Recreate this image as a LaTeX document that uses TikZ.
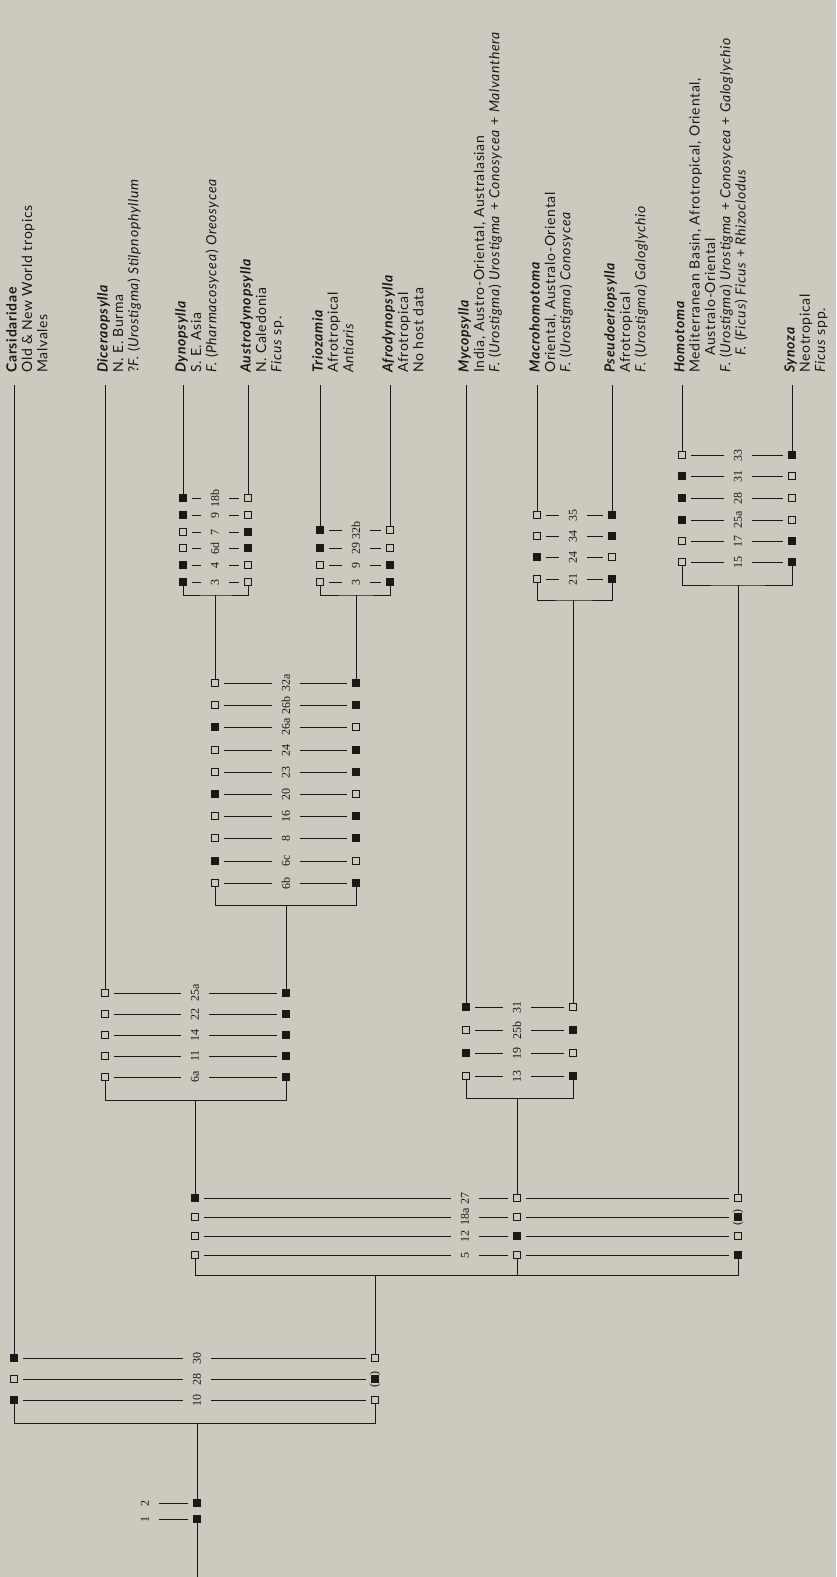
\documentclass[tikz,border=0pt]{standalone}
\usepackage{fontspec}
\setmainfont{Lato}[LetterSpace=5.0]
\newfontfamily\numfont{Liberation Serif}
\usetikzlibrary{positioning}
\definecolor{paper}{RGB}{204,202,191}
\definecolor{ink}{RGB}{28,24,24}
\newcommand{\gen}[1]{\textbf{\textit{#1}}}
\begin{document}
\begin{tikzpicture}[x=0.75pt, y=-0.75pt,
    ln/.style={draw=ink, line width=0.7pt},
    row/.style={ln, shorten <=4pt, shorten >=4pt},
    so/.style={draw=ink, fill=paper, line width=0.9pt, minimum size=5.8pt, inner sep=0pt, outer sep=0pt},
    sf/.style={so, fill=ink},
    sp/.style={sf, label={[font=\numfont\fontsize{9}{9}\selectfont, rotate=90, inner sep=0pt, text=ink]center:(\hspace{6pt})}},
    num/.style={font=\numfont\fontsize{9}{9}\selectfont, rotate=90, inner sep=1pt, outer sep=2.5pt, text=ink},
    taxon/.style={rotate=90, anchor=north west, align=left, inner sep=0pt, font=\fontsize{10.5}{11.5}\selectfont, text=ink}]
  \fill[paper] (0,0) rectangle (836,1577);
  \useasboundingbox (0,0) rectangle (836,1577);

  % taxa (text runs upwards, first line on the left)
  \node[taxon] (tCars) at (6,373) {\textbf{Carsidaridae}\\Old \& New World tropics\\Malvales};
  \node[taxon] (tDice) at (97,373) {\gen{Diceraopsylla}\\N. E. Burma\\?\textit{F.} (\textit{Urostigma}) \textit{Stilpnophyllum}};
  \node[taxon] (tDyno) at (175,373) {\gen{Dynopsylla}\\S. E. Asia\\\textit{F.} (\textit{Pharmacosycea}) \textit{Oreosycea}};
  \node[taxon] (tAustro) at (240,373) {\gen{Austrodynopsylla}\\N. Caledonia\\\textit{Ficus} sp.};
  \node[taxon] (tTrioz) at (312,373) {\gen{Triozamia}\\Afrotropical\\\textit{Antiaris}};
  \node[taxon] (tAfro) at (382,373) {\gen{Afrodynopsylla}\\Afrotropical\\No host data};
  \node[taxon] (tMyco) at (458,373) {\gen{Mycopsylla}\\India, Austro-Oriental, Australasian\\\textit{F.} (\textit{Urostigma}) \textit{Urostigma} + \textit{Conosycea} + \textit{Malvanthera}};
  \node[taxon] (tMacro) at (529,373) {\gen{Macrohomotoma}\\Oriental, Australo-Oriental\\\textit{F.} (\textit{Urostigma}) \textit{Conosycea}};
  \node[taxon] (tPseudo) at (604,373) {\gen{Pseudoeriopsylla}\\Afrotropical\\\textit{F.} (\textit{Urostigma}) \textit{Galoglychio}};
  \node[taxon] (tHomo) at (674,373) {\gen{Homotoma}\\Mediterranean Basin, Afrotropical, Oriental,\\\hspace*{1.2em}Australo-Oriental\\\textit{F.} (\textit{Urostigma}) \textit{Urostigma} + \textit{Conosycea} + \textit{Galoglychio}\\\hspace*{1.2em}\textit{F.} (\textit{Ficus}) \textit{Ficus} + \textit{Rhizoclodus}};
  \node[taxon] (tSyn) at (784,373) {\gen{Synoza}\\Neotropical\\\textit{Ficus} spp.};

  % tops of the terminal branches
  \foreach \n/\x in {Cars/14, Dice/105, Dyno/183, Austro/248, Trioz/320, Afro/390,
                     Myco/466, Macro/537, Pseudo/612, Homo/682, Syn/792}
    \coordinate (\n-top) at (\x,385);

  % Dynopsylla | Austrodynopsylla
  \foreach \y/\c/\l/\r [count=\i] in {498/18b/sf/so, 515/9/sf/so, 532/7/so/sf, 548/6d/so/sf, 565/4/sf/so, 582/3/sf/so} {
    \node[\l] (D-l-\i) at (183,\y) {};
    \node[num] (D-n-\i) at (215,\y) {\c};
    \node[\r] (D-r-\i) at (248,\y) {};
    \draw[row] (D-l-\i) -- (D-n-\i);
    \draw[row] (D-n-\i) -- (D-r-\i);
  }
  % Triozamia | Afrodynopsylla
  \foreach \y/\c/\l/\r [count=\i] in {530/32b/sf/so, 548/29/sf/so, 565/9/so/sf, 582/3/so/sf} {
    \node[\l] (T-l-\i) at (320,\y) {};
    \node[num] (T-n-\i) at (356,\y) {\c};
    \node[\r] (T-r-\i) at (390,\y) {};
    \draw[row] (T-l-\i) -- (T-n-\i);
    \draw[row] (T-n-\i) -- (T-r-\i);
  }
  % Macrohomotoma | Pseudoeriopsylla
  \foreach \y/\c/\l/\r [count=\i] in {515/35/so/sf, 536/34/so/sf, 557/24/sf/so, 579/21/so/sf} {
    \node[\l] (M-l-\i) at (537,\y) {};
    \node[num] (M-n-\i) at (573,\y) {\c};
    \node[\r] (M-r-\i) at (612,\y) {};
    \draw[row] (M-l-\i) -- (M-n-\i);
    \draw[row] (M-n-\i) -- (M-r-\i);
  }
  % Homotoma | Synoza
  \foreach \y/\c/\l/\r [count=\i] in {455/33/so/sf, 476/31/sf/so, 498/28/sf/so, 520/25a/sf/so, 541/17/so/sf, 562/15/so/sf} {
    \node[\l] (H-l-\i) at (682,\y) {};
    \node[num] (H-n-\i) at (738,\y) {\c};
    \node[\r] (H-r-\i) at (792,\y) {};
    \draw[row] (H-l-\i) -- (H-n-\i);
    \draw[row] (H-n-\i) -- (H-r-\i);
  }
  % (Dynopsylla + Austrodynopsylla) | (Triozamia + Afrodynopsylla)
  \foreach \y/\c/\l/\r [count=\i] in {683/32a/so/sf, 705/26b/so/sf, 727/26a/sf/so, 750/24/so/sf, 772/23/so/sf,
                                      794/20/sf/so, 816/16/so/sf, 838/8/so/sf, 861/6c/sf/so, 883/6b/so/sf} {
    \node[\l] (B-l-\i) at (215,\y) {};
    \node[num] (B-n-\i) at (286,\y) {\c};
    \node[\r] (B-r-\i) at (356,\y) {};
    \draw[row] (B-l-\i) -- (B-n-\i);
    \draw[row] (B-n-\i) -- (B-r-\i);
  }
  % Diceraopsylla | rest
  \foreach \y/\c/\l/\r [count=\i] in {993/25a/so/sf, 1014/22/so/sf, 1035/14/so/sf, 1056/11/so/sf, 1077/6a/so/sf} {
    \node[\l] (C-l-\i) at (105,\y) {};
    \node[num] (C-n-\i) at (195,\y) {\c};
    \node[\r] (C-r-\i) at (286,\y) {};
    \draw[row] (C-l-\i) -- (C-n-\i);
    \draw[row] (C-n-\i) -- (C-r-\i);
  }
  % Mycopsylla | (Macrohomotoma + Pseudoeriopsylla)
  \foreach \y/\c/\l/\r [count=\i] in {1007/31/sf/so, 1030/25b/so/sf, 1053/19/sf/so, 1076/13/so/sf} {
    \node[\l] (Y-l-\i) at (466,\y) {};
    \node[num] (Y-n-\i) at (517,\y) {\c};
    \node[\r] (Y-r-\i) at (573,\y) {};
    \draw[row] (Y-l-\i) -- (Y-n-\i);
    \draw[row] (Y-n-\i) -- (Y-r-\i);
  }
  % three-way split
  \foreach \y/\c/\l/\m/\r [count=\i] in {1198/27/sf/so/so, 1217/18a/so/so/sp, 1236/12/so/sf/so, 1255/5/so/so/sf} {
    \node[\l] (K-l-\i) at (195,\y) {};
    \node[num] (K-n-\i) at (465,\y) {\c};
    \node[\m] (K-m-\i) at (517,\y) {};
    \node[\r] (K-r-\i) at (738,\y) {};
    \draw[row] (K-l-\i) -- (K-n-\i);
    \draw[row] (K-n-\i) -- (K-m-\i);
    \draw[row] (K-m-\i) -- (K-r-\i);
  }
  % Carsidaridae | Homotomidae
  \foreach \y/\c/\l/\r [count=\i] in {1358/30/sf/so, 1379/28/so/sp, 1400/10/sf/so} {
    \node[\l] (Z-l-\i) at (14,\y) {};
    \node[num] (Z-n-\i) at (197,\y) {\c};
    \node[\r] (Z-r-\i) at (375,\y) {};
    \draw[row] (Z-l-\i) -- (Z-n-\i);
    \draw[row] (Z-n-\i) -- (Z-r-\i);
  }
  % root
  \foreach \y/\c [count=\i] in {1503/2, 1519/1} {
    \node[sf] (R-\i) at (197,\y) {};
    \node[num] (R-n-\i) at (145,\y) {\c};
    \draw[row] (R-n-\i) -- (R-\i);
  }
  \coordinate (R-end) at (197,1577);

  % brackets
  \coordinate (Db) at (215,595);
  \coordinate (Tb) at (356,595);
  \coordinate (Mb) at (573,600);
  \coordinate (Hb) at (738,585);
  \coordinate (Bb) at (286,905);
  \coordinate (Cb) at (195,1100);
  \coordinate (Yb) at (517,1098);
  \coordinate (Kb) at (375,1275);
  \coordinate (Zb) at (197,1423);
  \draw[ln] (D-l-6) |- (Db) -| (D-r-6);
  \draw[ln] (T-l-4) |- (Tb) -| (T-r-4);
  \draw[ln] (M-l-4) |- (Mb) -| (M-r-4);
  \draw[ln] (H-l-6) |- (Hb) -| (H-r-6);
  \draw[ln] (B-l-10) |- (Bb) -| (B-r-10);
  \draw[ln] (C-l-5) |- (Cb) -| (C-r-5);
  \draw[ln] (Y-l-4) |- (Yb) -| (Y-r-4);
  \draw[ln] (K-l-4) |- (Kb) -| (K-r-4);
  \draw[ln] (K-m-4) -- (K-m-4 |- Kb);
  \draw[ln] (Z-l-3) |- (Zb) -| (Z-r-3);

  % stems
  \draw[ln] (Db) -- (B-l-1);
  \draw[ln] (Tb) -- (B-r-1);
  \draw[ln] (Bb) -- (C-r-1);
  \draw[ln] (Cb) -- (K-l-1);
  \draw[ln] (Mb) -- (Y-r-1);
  \draw[ln] (Yb) -- (K-m-1);
  \draw[ln] (Hb) -- (K-r-1);
  \draw[ln] (Kb) -- (Z-r-1);
  \draw[ln] (Zb) -- (R-1);
  \draw[ln] (R-2) -- (R-end);

  % terminal branches
  \draw[ln] (Cars-top) -- (Z-l-1);
  \draw[ln] (Dice-top) -- (C-l-1);
  \draw[ln] (Dyno-top) -- (D-l-1);
  \draw[ln] (Austro-top) -- (D-r-1);
  \draw[ln] (Trioz-top) -- (T-l-1);
  \draw[ln] (Afro-top) -- (T-r-1);
  \draw[ln] (Myco-top) -- (Y-l-1);
  \draw[ln] (Macro-top) -- (M-l-1);
  \draw[ln] (Pseudo-top) -- (M-r-1);
  \draw[ln] (Homo-top) -- (H-l-1);
  \draw[ln] (Syn-top) -- (H-r-1);
\end{tikzpicture}
\end{document}
